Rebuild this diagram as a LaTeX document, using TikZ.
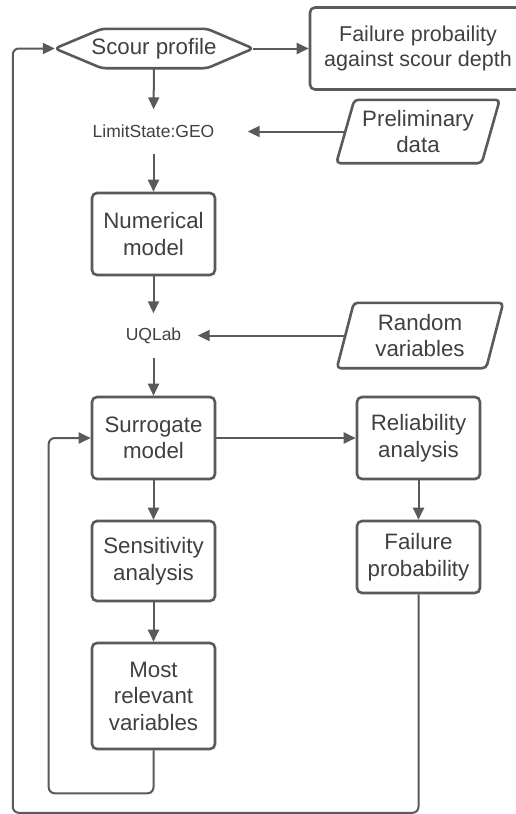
\documentclass[tikz,border=0pt]{standalone}
\usepackage{fontspec}
\setmainfont{Liberation Sans}
\usetikzlibrary{arrows.meta}
\definecolor{lc}{HTML}{5A5A5A}
\definecolor{tc}{HTML}{404040}
\begin{document}
\begin{tikzpicture}[x=1pt,y=-1pt,
  box/.style={draw=lc, line width=2.6pt, rounded corners=5pt, fill=white, text=tc, align=center, inner sep=0pt, minimum width=123pt, font=\fontsize{22.3}{26.5}\selectfont},
  lbl/.style={inner sep=0pt, text=tc, font=\fontsize{17.5}{20}\selectfont},
  ghost/.style={inner sep=0pt, text=tc, align=center, font=\fontsize{22.3}{26.5}\selectfont},
  outline/.style={draw=lc, line width=2.6pt, rounded corners=4pt, line join=round},
  conn/.style={draw=lc, line width=2pt, -{Triangle[length=12pt,width=11pt]}},
  loopconn/.style={conn, rounded corners=6pt},
]
\useasboundingbox[fill=white] (0,0) rectangle (516,814);

% nodes
\node[ghost, minimum width=198pt, minimum height=39pt] (hex) at (154,48.5) {Scour profile};
\draw[outline] (hex.west) -- ([xshift=47pt]hex.north west) -- ([xshift=-46pt]hex.north east) -- (hex.east) -- ([xshift=-46pt]hex.south east) -- ([xshift=47pt]hex.south west) -- cycle;

\node[box, minimum width=216pt, minimum height=82pt, font=\fontsize{21.5}{25.5}\selectfont] (fpa) at (418,48.5) {Failure probaility\\against scour depth};

\node[lbl, minimum width=188pt, minimum height=44pt] (ls) at (153.5,131.5) {LimitState:GEO};

\node[ghost, minimum width=145pt, minimum height=63pt] (pre) at (418,131.5) {Preliminary\\data};
\draw[outline] ([xshift=9pt]pre.north west) -- ([xshift=9pt]pre.north east) -- ([xshift=-9pt]pre.south east) -- ([xshift=-9pt]pre.south west) -- cycle;

\node[box, minimum height=82pt] (num) at (153.5,234) {Numerical\\model};

\node[lbl, minimum width=88pt, minimum height=44pt] (uq) at (153.5,335.5) {UQLab};

\node[ghost, minimum width=149pt, minimum height=65pt] (rv) at (420,335.5) {Random\\variables};
\draw[outline] ([xshift=8.5pt]rv.north west) -- ([xshift=8.5pt]rv.north east) -- ([xshift=-8.5pt]rv.south east) -- ([xshift=-8.5pt]rv.south west) -- cycle;

\node[box, minimum height=82pt] (sur) at (153.5,438) {Surrogate\\model};
\node[box, minimum height=82pt] (rel) at (418.5,438) {Reliability\\analysis};
\node[box, minimum height=80pt] (sen) at (153.5,561) {Sensitivity\\analysis};
\node[box, minimum height=72pt] (fp) at (418.5,557) {Failure\\probability};
\node[box, minimum height=106pt] (mrv) at (153.5,696) {Most\\relevant\\variables};

% connectors
\draw[conn] (hex) -- (fpa);
\draw[conn] (hex) -- (ls);
\draw[conn] (pre) -- (ls);
\draw[conn] (ls) -- (num);
\draw[conn] (num) -- (uq);
\draw[conn] (rv) -- (uq);
\draw[conn] (uq) -- (sur);
\draw[conn] (sur) -- (rel);
\draw[conn] (sur) -- (sen);
\draw[conn] (rel) -- (fp);
\draw[conn] (sen) -- (mrv);
\draw[loopconn] (mrv.south) -- ++(0,43) -| ([xshift=-42pt]sur.west) -- (sur.west);
\draw[loopconn] (fp.south) -- ++(0,218.5) -| ([xshift=-42pt]hex.west) -- (hex.west);
\end{tikzpicture}
\end{document}
